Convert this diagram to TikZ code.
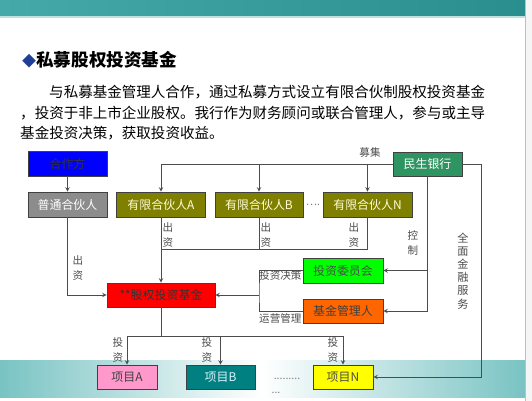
\documentclass[tikz,border=0pt]{standalone}
\usepackage{fontspec}
\setmainfont{Liberation Serif}
\newfontfamily\cjk{Noto Sans CJK SC}
\usepackage{tikz}
\usetikzlibrary{shapes.geometric, arrows}
\usetikzlibrary{positioning}

\definecolor{bandtop}{HTML}{45A9A9}
\definecolor{bandtopdark}{HTML}{2A8E8E}
\definecolor{bandlow}{HTML}{79C3C3}
\definecolor{bulletblue}{HTML}{1F3D99}
\definecolor{partnerblue}{HTML}{0000FF}
\definecolor{gpgray}{HTML}{8C8C8C}
\definecolor{lpolive}{HTML}{808000}
\definecolor{bankgreen}{HTML}{2E9461}
\definecolor{fundred}{HTML}{FF0000}
\definecolor{comgreen}{HTML}{00FF00}
\definecolor{mgrorange}{HTML}{FF6600}
\definecolor{projpink}{HTML}{FF99CC}
\definecolor{projteal}{HTML}{008080}
\definecolor{projyellow}{HTML}{FFFF00}

\begin{document}
\begin{tikzpicture}[x=0.03cm,y=-0.03cm]

   %Styles of boxes and arrows
   \tikzstyle{box} = [rectangle, draw=black!75, line width=0.6pt, minimum height=0.75cm, inner sep=0pt, text centered, font=\cjk\fontsize{10.2}{12}\selectfont]
   \tikzstyle{arrow} = [draw=black!70, line width=0.7pt, ->, >=stealth]
   \tikzstyle{line} = [draw=black!70, line width=0.7pt]
   \tikzstyle{lbl} = [inner sep=0pt, align=center, text=black!70, font=\cjk\fontsize{9}{12}\selectfont]

   %Slide background
   \useasboundingbox (0,0) rectangle (532,401);
   \fill[white] (0,0) rectangle (532,401);
   \shade[left color=bandtop, right color=bandtopdark] (0,0) rectangle (525,16);
   \draw[bandtop!35, line width=1pt] (0,17) -- (525,17);
   \shade[left color=bandlow, right color=white] (0,360) rectangle (262,397);
   \shade[left color=white, right color=bandlow] (262,360) rectangle (525,397);
   \fill[black!4] (525,0) rectangle (532,401);
   \draw[black!25] (525,0) -- (525,401);

   %Title and text
   \node[anchor=west, inner sep=0pt, font=\cjk\bfseries\fontsize{15}{18}\selectfont] (title) at (22,60) {{\color{bulletblue}\fontsize{12}{14}\selectfont◆}私募股权投资基金};
   \node[anchor=west, inner sep=0pt, font=\cjk\fontsize{12.4}{15}\selectfont] (para1) at (49,92) {与私募基金管理人合作，通过私募方式设立有限合伙制股权投资基金};
   \node[anchor=west, inner sep=0pt, font=\cjk\fontsize{12.4}{15}\selectfont] (para2) at (20,113) {，投资于非上市企业股权。我行作为财务顾问或联合管理人，参与或主导};
   \node[anchor=west, inner sep=0pt, font=\cjk\fontsize{12.4}{15}\selectfont] (para3) at (20,133) {基金投资决策，获取投资收益。};

   %Labels (drawn before boxes so boxes may cover them)
   \node[lbl] (mujilbl) at (370,153) {募集};
   \node[lbl] (czgp) at (78,268) {出\\资};
   \node[lbl] (czA) at (168,235) {出\\资};
   \node[lbl] (czB) at (266,235) {出\\资};
   \node[lbl] (czN) at (354,235) {出\\资};
   \node[lbl] (kzlbl) at (413,243) {控\\制};
   \node[lbl, font=\cjk\fontsize{9.5}{11.2}\selectfont] (fwlbl) at (463,271) {全\\面\\金\\融\\服\\务};
   \node[lbl, anchor=west] (jclbl) at (259,275) {投资决策};
   \node[lbl, anchor=west] (yylbl) at (259,318) {运营管理};
   \node[lbl] (tzA) at (118,350) {投\\资};
   \node[lbl] (tzB) at (207,350) {投\\资};
   \node[lbl] (tzN) at (333,350) {投\\资};

   %Boxes
   \node[box, fill=partnerblue, text=black!80, minimum width=2.37cm] (partner) at (67.5,163.5) {合作方};
   \node[box, fill=gpgray, text=white, minimum width=2.37cm] (gp) at (67.5,204.5) {普通合伙人};
   \node[box, fill=lpolive, text=yellow!15, minimum width=2.67cm] (lpA) at (161,204.5) {有限合伙人A};
   \node[box, fill=lpolive, text=yellow!15, minimum width=2.64cm] (lpB) at (259,204.5) {有限合伙人B};
   \node[box, fill=lpolive, text=yellow!15, minimum width=2.67cm] (lpN) at (367.5,204.5) {有限合伙人N};
   \node[box, fill=bankgreen, text=white, minimum width=2.07cm, minimum height=0.72cm] (bank) at (427.5,164) {民生银行};
   \node[box, fill=fundred, text=black!80, minimum width=3.24cm, minimum height=0.72cm] (fund) at (161,295) {**股权投资基金};
   \node[box, fill=comgreen, text=black!70, minimum width=2.4cm] (committee) at (343,270.5) {投资委员会};
   \node[box, fill=mgrorange, text=black!75, minimum width=2.4cm, minimum height=0.72cm] (manager) at (343,311) {基金管理人};
   \node[box, fill=projpink, text=black!75, minimum width=1.8cm, minimum height=0.72cm] (projA) at (127,377) {项目A};
   \node[box, fill=projteal, text=cyan!15, minimum width=2.07cm, minimum height=0.72cm] (projB) at (220.5,377) {项目B};
   \node[box, fill=projyellow, text=black!70, minimum width=1.8cm, minimum height=0.72cm] (projN) at (343,377) {项目N};

   %Dots
   \node[lbl, text=black!50] (dotsLP) at (313,205) {\ldots.};
   \node[lbl, text=black!50] (dotsP) at (287,379) {.........};
   \node[lbl, text=black!50] (dotsP2) at (276,393) {...};

   %Helper points
   \coordinate (cz) at (161,249);
   \coordinate (mid) at (259,295);
   \coordinate (tz) at (161,336);
   \coordinate (rgt) at (481,164);

   %Arrows
   \draw[arrow] (partner.south) -- (gp.north);
   \draw[arrow] (bank.west) -| (lpA.north);
   \draw[arrow] (lpB.north |- bank.west) -- (lpB.north);
   \draw[arrow] (lpN.north |- bank.west) -- (lpN.north);
   \draw[arrow] (bank.east) -- (rgt) |- (projN.east);
   \draw[arrow] (bank.south) |- (manager.east);
   \draw[arrow] (bank.south |- committee.east) -- (committee.east);
   \draw[line] (lpA.south) -- (cz) -- (lpN.south |- cz) -- (lpN.south);
   \draw[line] (lpB.south) -- (lpB.south |- cz);
   \draw[arrow] (cz) -- (fund.north);
   \draw[arrow] (gp.south) |- (fund.west);
   \draw[line] (committee.west) -| (mid) |- (manager.west);
   \draw[arrow] (mid) -- (fund.east);
   \draw[line] (fund.south) -- (tz);
   \draw[line] (projA.north |- tz) -- (projN.north |- tz);
   \draw[arrow] (projA.north |- tz) -- (projA.north);
   \draw[arrow] (projB.north |- tz) -- (projB.north);
   \draw[arrow] (projN.north |- tz) -- (projN.north);

\end{tikzpicture}
\end{document}
